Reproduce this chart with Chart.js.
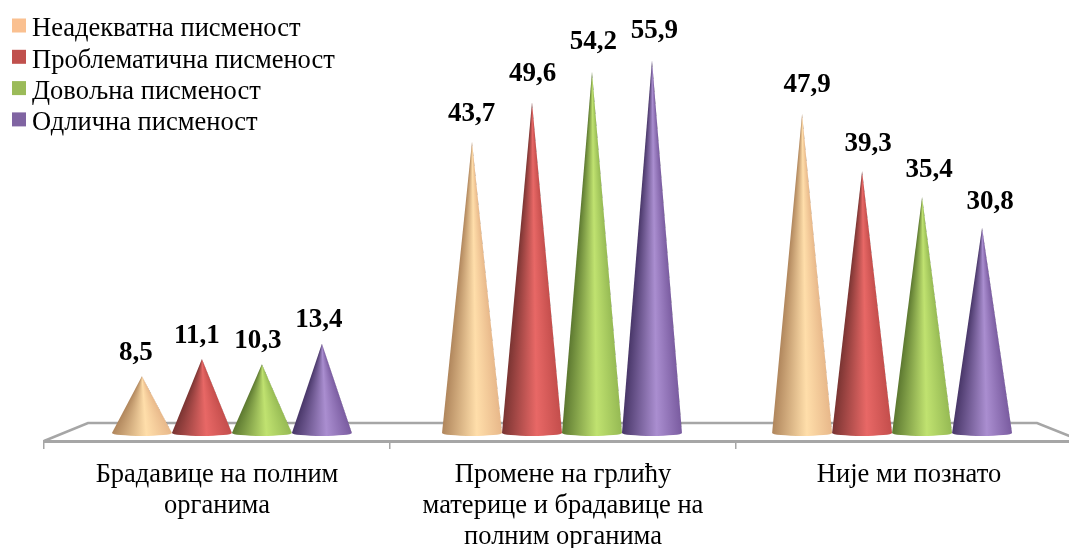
<!DOCTYPE html>
<html>
<head>
<meta charset="utf-8">
<style>
html, body { margin: 0; padding: 0; background: #fff; overflow: hidden; width: 1069px; height: 548px; }
</style>
</head>
<body>
<canvas id="myChart" width="1100" height="548" style="display:block"></canvas>
<script src="https://cdn.jsdelivr.net/npm/chart.js@4/dist/chart.umd.js"></script>
<script>
const categories = [
    ['Брадавице на полним', 'органима'],
    ['Промене на грлићу', 'материце и брадавице на', 'полним органима'],
    'Није ми познато'
];
const seriesNames = ['Неадекватна писменост', 'Проблематична писменост', 'Довољна писменост', 'Одлична писменост'];
const inadequate = [8.5, 43.7, 47.9];
const problematic = [11.1, 49.6, 39.3];
const sufficient = [10.3, 54.2, 35.4];
const excellent = [13.4, 55.9, 30.8];

const legendColors = ['#fac090', '#c0504d', '#9bbb59', '#8064a2'];
// cone shading, left edge -> highlight -> right edge
const shades = [
    ['#b0865c', '#ffdeaa', '#e8b88a'],
    ['#7a3432', '#e86866', '#c44e4c'],
    ['#5c7830', '#c0e270', '#96ba54'],
    ['#483668', '#aa8ed0', '#7a5ca0']
];

const SERIF = '"Liberation Serif", "Times New Roman", serif';
const depth = 18;       // floor depth in px
const coneK = 0.954;    // back of the floor is narrower than the front
const labelK = 0.97;
const baseLift = 8;     // cones stand this far behind the front edge

function drawCone(ctx, cx, top, base, r, stops) {
    const ry = 3;
    const a0 = Math.atan2(base - top, r);
    const sweep = (Math.PI - 2 * a0) / (2 * Math.PI);
    // conic gradient around the tip so the shading converges there. runs right edge -> left edge
    const g = ctx.createConicGradient(a0, cx, top);
    g.addColorStop(0, stops[2]);
    g.addColorStop(sweep * 0.42, stops[1]);
    g.addColorStop(sweep, stops[0]);
    ctx.fillStyle = g;
    ctx.beginPath();
    ctx.moveTo(cx, top);
    ctx.lineTo(cx + r, base);
    ctx.ellipse(cx, base, r, ry, 0, 0, Math.PI);
    ctx.closePath();
    ctx.fill();
}

const floorPlugin = {
    id: 'floor',
    beforeDatasetsDraw(chart) {
        const { ctx, chartArea: a } = chart;
        ctx.save();
        ctx.strokeStyle = '#a6a6a6';
        ctx.lineWidth = 2.5;
        ctx.beginPath();
        ctx.moveTo(a.left, a.bottom);
        ctx.lineTo(a.left + 44, a.bottom - depth);
        ctx.lineTo(a.right - 45, a.bottom - depth);
        ctx.lineTo(a.right, a.bottom);
        ctx.stroke();
        ctx.restore();
    }
};

const conePlugin = {
    id: 'cones',
    afterDatasetsDraw(chart) {
        const { ctx, chartArea: a } = chart;
        const mid = (a.left + a.right) / 2;
        ctx.save();
        chart.data.datasets.forEach((ds, i) => {
            chart.getDatasetMeta(i).data.forEach((bar, j) => {
                const cx = mid - 1 + (bar.x - mid) * coneK;
                const top = bar.y - baseLift;
                const base = bar.base - baseLift;
                drawCone(ctx, cx, top, base, bar.width * coneK / 2, shades[i]);

                // value above the tip, comma as decimal mark
                const h = base - top;
                ctx.font = 'bold 27px ' + SERIF;
                ctx.fillStyle = '#000';
                ctx.textAlign = 'center';
                ctx.textBaseline = 'alphabetic';
                ctx.fillText(String(ds.data[j]).replace('.', ','), mid + (bar.x - mid) * labelK, top - 15 - h * 0.02);
            });
        });
        ctx.restore();
    }
};

const legendPlugin = {
    id: 'sideLegend',
    afterDraw(chart) {
        const ctx = chart.ctx;
        ctx.save();
        ctx.font = '26.5px ' + SERIF;
        ctx.textAlign = 'left';
        ctx.textBaseline = 'middle';
        chart.data.datasets.forEach((ds, i) => {
            const y = 25.5 + i * 31.3;
            ctx.fillStyle = legendColors[i];
            ctx.fillRect(12, y - 7, 14, 14);
            ctx.fillStyle = '#000';
            ctx.fillText(ds.label, 32, y + 4);
        });
        ctx.restore();
    }
};

new Chart(document.getElementById('myChart'), {
    type: 'bar',
    data: {
        labels: categories,
        datasets: [inadequate, problematic, sufficient, excellent].map((values, i) => ({
            label: seriesNames[i],
            data: values,
            backgroundColor: 'rgba(0,0,0,0)',
            categoryPercentage: 0.727,
            barPercentage: 1
        }))
    },
    options: {
        responsive: false,
        animation: false,
        layout: { padding: { left: 44, right: 18, top: 41 } },
        plugins: {
            legend: { display: false },
            tooltip: { enabled: false }
        },
        scales: {
            x: {
                afterFit(scale) { scale.height = 107; },
                border: { color: '#a6a6a6', width: 3 },
                grid: { drawOnChartArea: false, tickLength: 8, color: '#a6a6a6', lineWidth: 1.5 },
                ticks: {
                    color: '#000',
                    font: { family: SERIF, size: 26.5, lineHeight: 1.17 },
                    maxRotation: 0,
                    autoSkip: false,
                    padding: 11
                }
            },
            y: { display: false, min: 0, max: 60 }
        }
    },
    plugins: [floorPlugin, conePlugin, legendPlugin]
});
</script>
</body>
</html>
